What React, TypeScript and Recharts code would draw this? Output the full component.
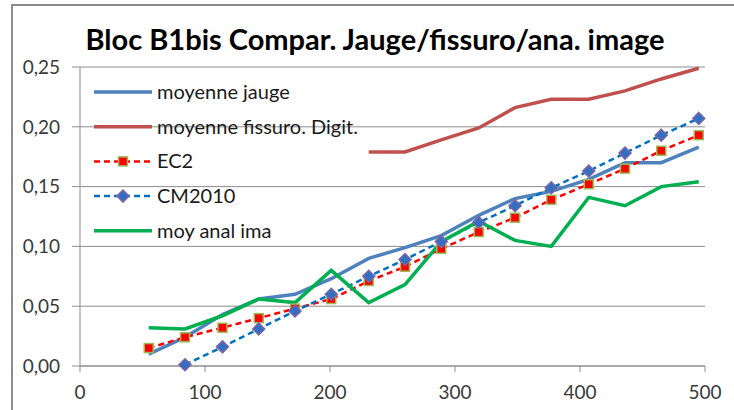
import { LineChart, Line, XAxis, YAxis, CartesianGrid } from 'recharts'

const xs = [55, 84, 114, 143, 172, 201, 231, 260, 289, 319, 348, 377, 407, 436, 465, 495]
const jauge = [0.010, 0.024, 0.043, 0.056, 0.060, 0.073, 0.090, 0.099, 0.109, 0.126, 0.140, 0.146, 0.156, 0.170, 0.170, 0.183]
const fissuro = [null, null, null, null, null, null, 0.179, 0.179, 0.189, 0.199, 0.216, 0.223, 0.223, 0.230, 0.240, 0.249]
const ec2 = [0.015, 0.024, 0.032, 0.040, 0.048, 0.056, 0.071, 0.083, 0.098, 0.112, 0.124, 0.139, 0.152, 0.165, 0.180, 0.193]
const cm2010 = [null, 0.001, 0.016, 0.031, 0.046, 0.060, 0.075, 0.089, 0.104, 0.120, 0.134, 0.149, 0.163, 0.178, 0.193, 0.207]
const analIma = [0.032, 0.031, 0.042, 0.056, 0.053, 0.080, 0.053, 0.068, 0.104, 0.121, 0.105, 0.100, 0.141, 0.134, 0.150, 0.154]

const xTicks = [0, 100, 200, 300, 400, 500]
const yTicks = [0, 0.05, 0.1, 0.15, 0.2, 0.25]

const data = xs.map((x, i) => ({
    x,
    jauge: jauge[i],
    fissuro: fissuro[i],
    ec2: ec2[i],
    cm2010: cm2010[i],
    analIma: analIma[i],
}))

const FONT = 'Lato, "Liberation Sans", sans-serif'

const SquareDot = (props: any) => {
    const { cx, cy, index } = props
    if (cx == null || cy == null) return <g key={`sq-${index}`} />
    return <rect key={`sq-${index}`} x={cx - 4.5} y={cy - 4.5} width={9} height={9} fill="#ff0000" stroke="#9bbb59" strokeWidth={1.5} />
}

const DiamondDot = (props: any) => {
    const { cx, cy, index } = props
    if (cx == null || cy == null) return <g key={`dm-${index}`} />
    const r = 6
    return (
        <path
            key={`dm-${index}`}
            d={`M${cx},${cy - r}L${cx + r},${cy}L${cx},${cy + r}L${cx - r},${cy}Z`}
            fill="#2f6fc4"
            stroke="#8064a2"
            strokeWidth={1.5}
        />
    )
}

const legendItems = [
    { label: 'moyenne jauge', color: '#4f81bd', dash: undefined, width: 3.5, marker: null },
    { label: 'moyenne fissuro. Digit.', color: '#c0504d', dash: undefined, width: 3.5, marker: null },
    { label: 'EC2', color: '#ff0000', dash: '6 4', width: 2.5, marker: 'square' },
    { label: 'CM2010', color: '#0070c0', dash: '6 4', width: 2.5, marker: 'diamond' },
    { label: 'moy anal ima', color: '#00b050', dash: undefined, width: 3.5, marker: null },
]

// legend drawn as an overlay so it doesn't shrink the plot area
const ChartLegend = () => (
    <svg width={320} height={175} style={{ position: 'absolute', left: 90, top: 75 }}>
        {legendItems.map((it, i) => {
            const y = 17 + i * 34.7
            return (
                <g key={it.label}>
                    <line x1={4} x2={62} y1={y} y2={y} stroke={it.color} strokeWidth={it.width} strokeDasharray={it.dash} />
                    {it.marker === 'square' && <SquareDot cx={33} cy={y} index={99} />}
                    {it.marker === 'diamond' && <DiamondDot cx={33} cy={y} index={99} />}
                    <text x={67} y={y} dy="0.35em" fontSize={20} fill="#1a1a1a" fontFamily={FONT}>
                        {it.label}
                    </text>
                </g>
            )
        })}
    </svg>
)

const App = () => {
    return (
        <div style={{ position: 'absolute', left: 0, top: 0, width: 734, height: 410, background: '#fff', fontFamily: FONT, overflow: 'hidden' }}>
            <div style={{ position: 'absolute', left: 11, top: 4, width: 800, height: 500, border: '2px solid #8c8c8c' }} />
            <LineChart
                width={734}
                height={410}
                data={data}
                margin={{ top: 67, right: 29, bottom: 0, left: 0 }}
                style={{ position: 'absolute', left: 0, top: 0 }}
            >
                <CartesianGrid vertical={false} stroke="#8c8c8c" strokeWidth={1} />
                <XAxis
                    type="number"
                    dataKey="x"
                    domain={[0, 500]}
                    ticks={xTicks}
                    stroke="#8c8c8c"
                    tickSize={6}
                    tickMargin={14}
                    height={44}
                    tick={{ fill: '#3a3a3a', fontSize: 19, fontFamily: FONT }}
                />
                <YAxis
                    domain={[0, 0.25]}
                    ticks={yTicks}
                    stroke="#8c8c8c"
                    tickSize={8}
                    tickMargin={12}
                    width={80}
                    tickFormatter={(v: number) => v.toFixed(2).replace('.', ',')}
                    tick={{ fill: '#3a3a3a', fontSize: 19, fontFamily: FONT }}
                />
                <Line dataKey="jauge" stroke="#4f81bd" strokeWidth={3.5} dot={false} isAnimationActive={false} />
                <Line dataKey="fissuro" stroke="#c0504d" strokeWidth={3.5} dot={false} isAnimationActive={false} />
                <Line dataKey="ec2" stroke="#ff0000" strokeWidth={2.5} strokeDasharray="6 4" dot={SquareDot} isAnimationActive={false} />
                <Line dataKey="cm2010" stroke="#0070c0" strokeWidth={2.5} strokeDasharray="6 4" dot={DiamondDot} isAnimationActive={false} />
                <Line dataKey="analIma" stroke="#00b050" strokeWidth={3.5} dot={false} isAnimationActive={false} />
            </LineChart>
            <ChartLegend />
            <div style={{ position: 'absolute', left: 0, width: 734, top: 22, textAlign: 'center', fontSize: 29, fontWeight: 700, color: '#000', paddingLeft: 8, lineHeight: 1.2 }}>
                Bloc B1bis Compar. Jauge/fissuro/ana. image
            </div>
        </div>
    )
}

export default App
